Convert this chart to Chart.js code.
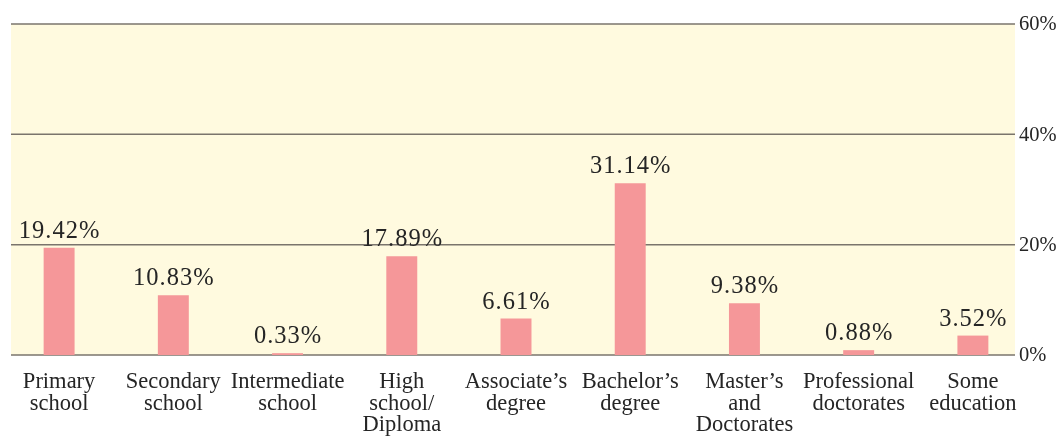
<!DOCTYPE html>
<html>
<head>
<meta charset="utf-8">
<script src="https://cdn.jsdelivr.net/npm/chart.js@4/dist/chart.umd.min.js"></script>
<style>
html,body{margin:0;padding:0;background:#fff;}
#wrap{width:1061px;height:437px;position:relative;}
</style>
</head>
<body>
<div id="wrap"><canvas id="c" width="1061" height="437"></canvas></div>
<script>
const categories = [
  ["Primary","school"],
  ["Secondary","school"],
  ["Intermediate","school"],
  ["High","school/","Diploma"],
  ["Associate’s","degree"],
  ["Bachelor’s","degree"],
  ["Master’s","and","Doctorates"],
  ["Professional","doctorates"],
  ["Some","education"]
];
const values = [19.42, 10.83, 0.33, 17.89, 6.61, 31.14, 9.38, 0.88, 3.52];
const valueLabels = ["19.42%","10.83%","0.33%","17.89%","6.61%","31.14%","9.38%","0.88%","3.52%"];
const yTicks = [0, 20, 40, 60];
const yTickLabels = ["0%","20%","40%","60%"];

const FONT = "'Liberation Serif', 'DejaVu Serif', serif";
const PANEL_LEFT = 11, PANEL_RIGHT = 1015;

const panelPlugin = {
  id: 'panel',
  beforeDatasetsDraw(chart) {
    const ctx = chart.ctx, y = chart.scales.y;
    const top = y.getPixelForValue(60), bottom = y.getPixelForValue(0);
    ctx.save();
    ctx.fillStyle = '#fffadf';
    ctx.fillRect(PANEL_LEFT, top, PANEL_RIGHT - PANEL_LEFT, bottom - top);
    ctx.strokeStyle = '#7a746c';
    ctx.lineWidth = 1.5;
    yTicks.forEach(v => {
      const py = y.getPixelForValue(v);
      ctx.beginPath();
      ctx.moveTo(PANEL_LEFT, py);
      ctx.lineTo(PANEL_RIGHT, py);
      ctx.stroke();
    });
    ctx.font = "20.5px " + FONT;
    ctx.fillStyle = '#252525';
    ctx.textAlign = 'left';
    ctx.textBaseline = 'middle';
    yTicks.forEach((v, i) => {
      ctx.fillText(yTickLabels[i], PANEL_RIGHT + 4, y.getPixelForValue(v) + 1);
    });
    ctx.restore();
  },
  afterDatasetsDraw(chart) {
    const ctx = chart.ctx;
    const meta = chart.getDatasetMeta(0);
    ctx.save();
    ctx.font = "24.5px " + FONT;
    try { ctx.letterSpacing = '1px'; } catch (e) {}
    ctx.fillStyle = '#252525';
    ctx.textAlign = 'center';
    ctx.textBaseline = 'alphabetic';
    meta.data.forEach((bar, i) => {
      ctx.fillText(valueLabels[i], bar.x + 0.5, bar.y - 10);
    });
    ctx.restore();
  }
};

new Chart(document.getElementById('c'), {
  type: 'bar',
  data: {
    labels: categories,
    datasets: [{
      data: values,
      backgroundColor: '#f59799',
      borderWidth: 0,
      barPercentage: 0.271,
      categoryPercentage: 1.0
    }]
  },
  options: {
    responsive: false,
    animation: false,
    layout: { padding: { left: 2, top: 24, right: 0, bottom: 0 } },
    plugins: { legend: { display: false }, tooltip: { enabled: false } },
    scales: {
      x: {
        grid: { display: false },
        border: { display: false },
        ticks: {
          autoSkip: false, maxRotation: 0, minRotation: 0,
          padding: 8,
          color: '#252525',
          font: { family: FONT, size: 22.5, lineHeight: 0.97 }
        },
        afterFit(axis) { axis.height = 82; }
      },
      y: {
        position: 'right',
        min: 0, max: 60,
        grid: { display: false },
        border: { display: false },
        ticks: { display: false, stepSize: 20 },
        afterFit(axis) { axis.width = 31; }
      }
    }
  },
  plugins: [panelPlugin]
});
</script>
</body>
</html>
